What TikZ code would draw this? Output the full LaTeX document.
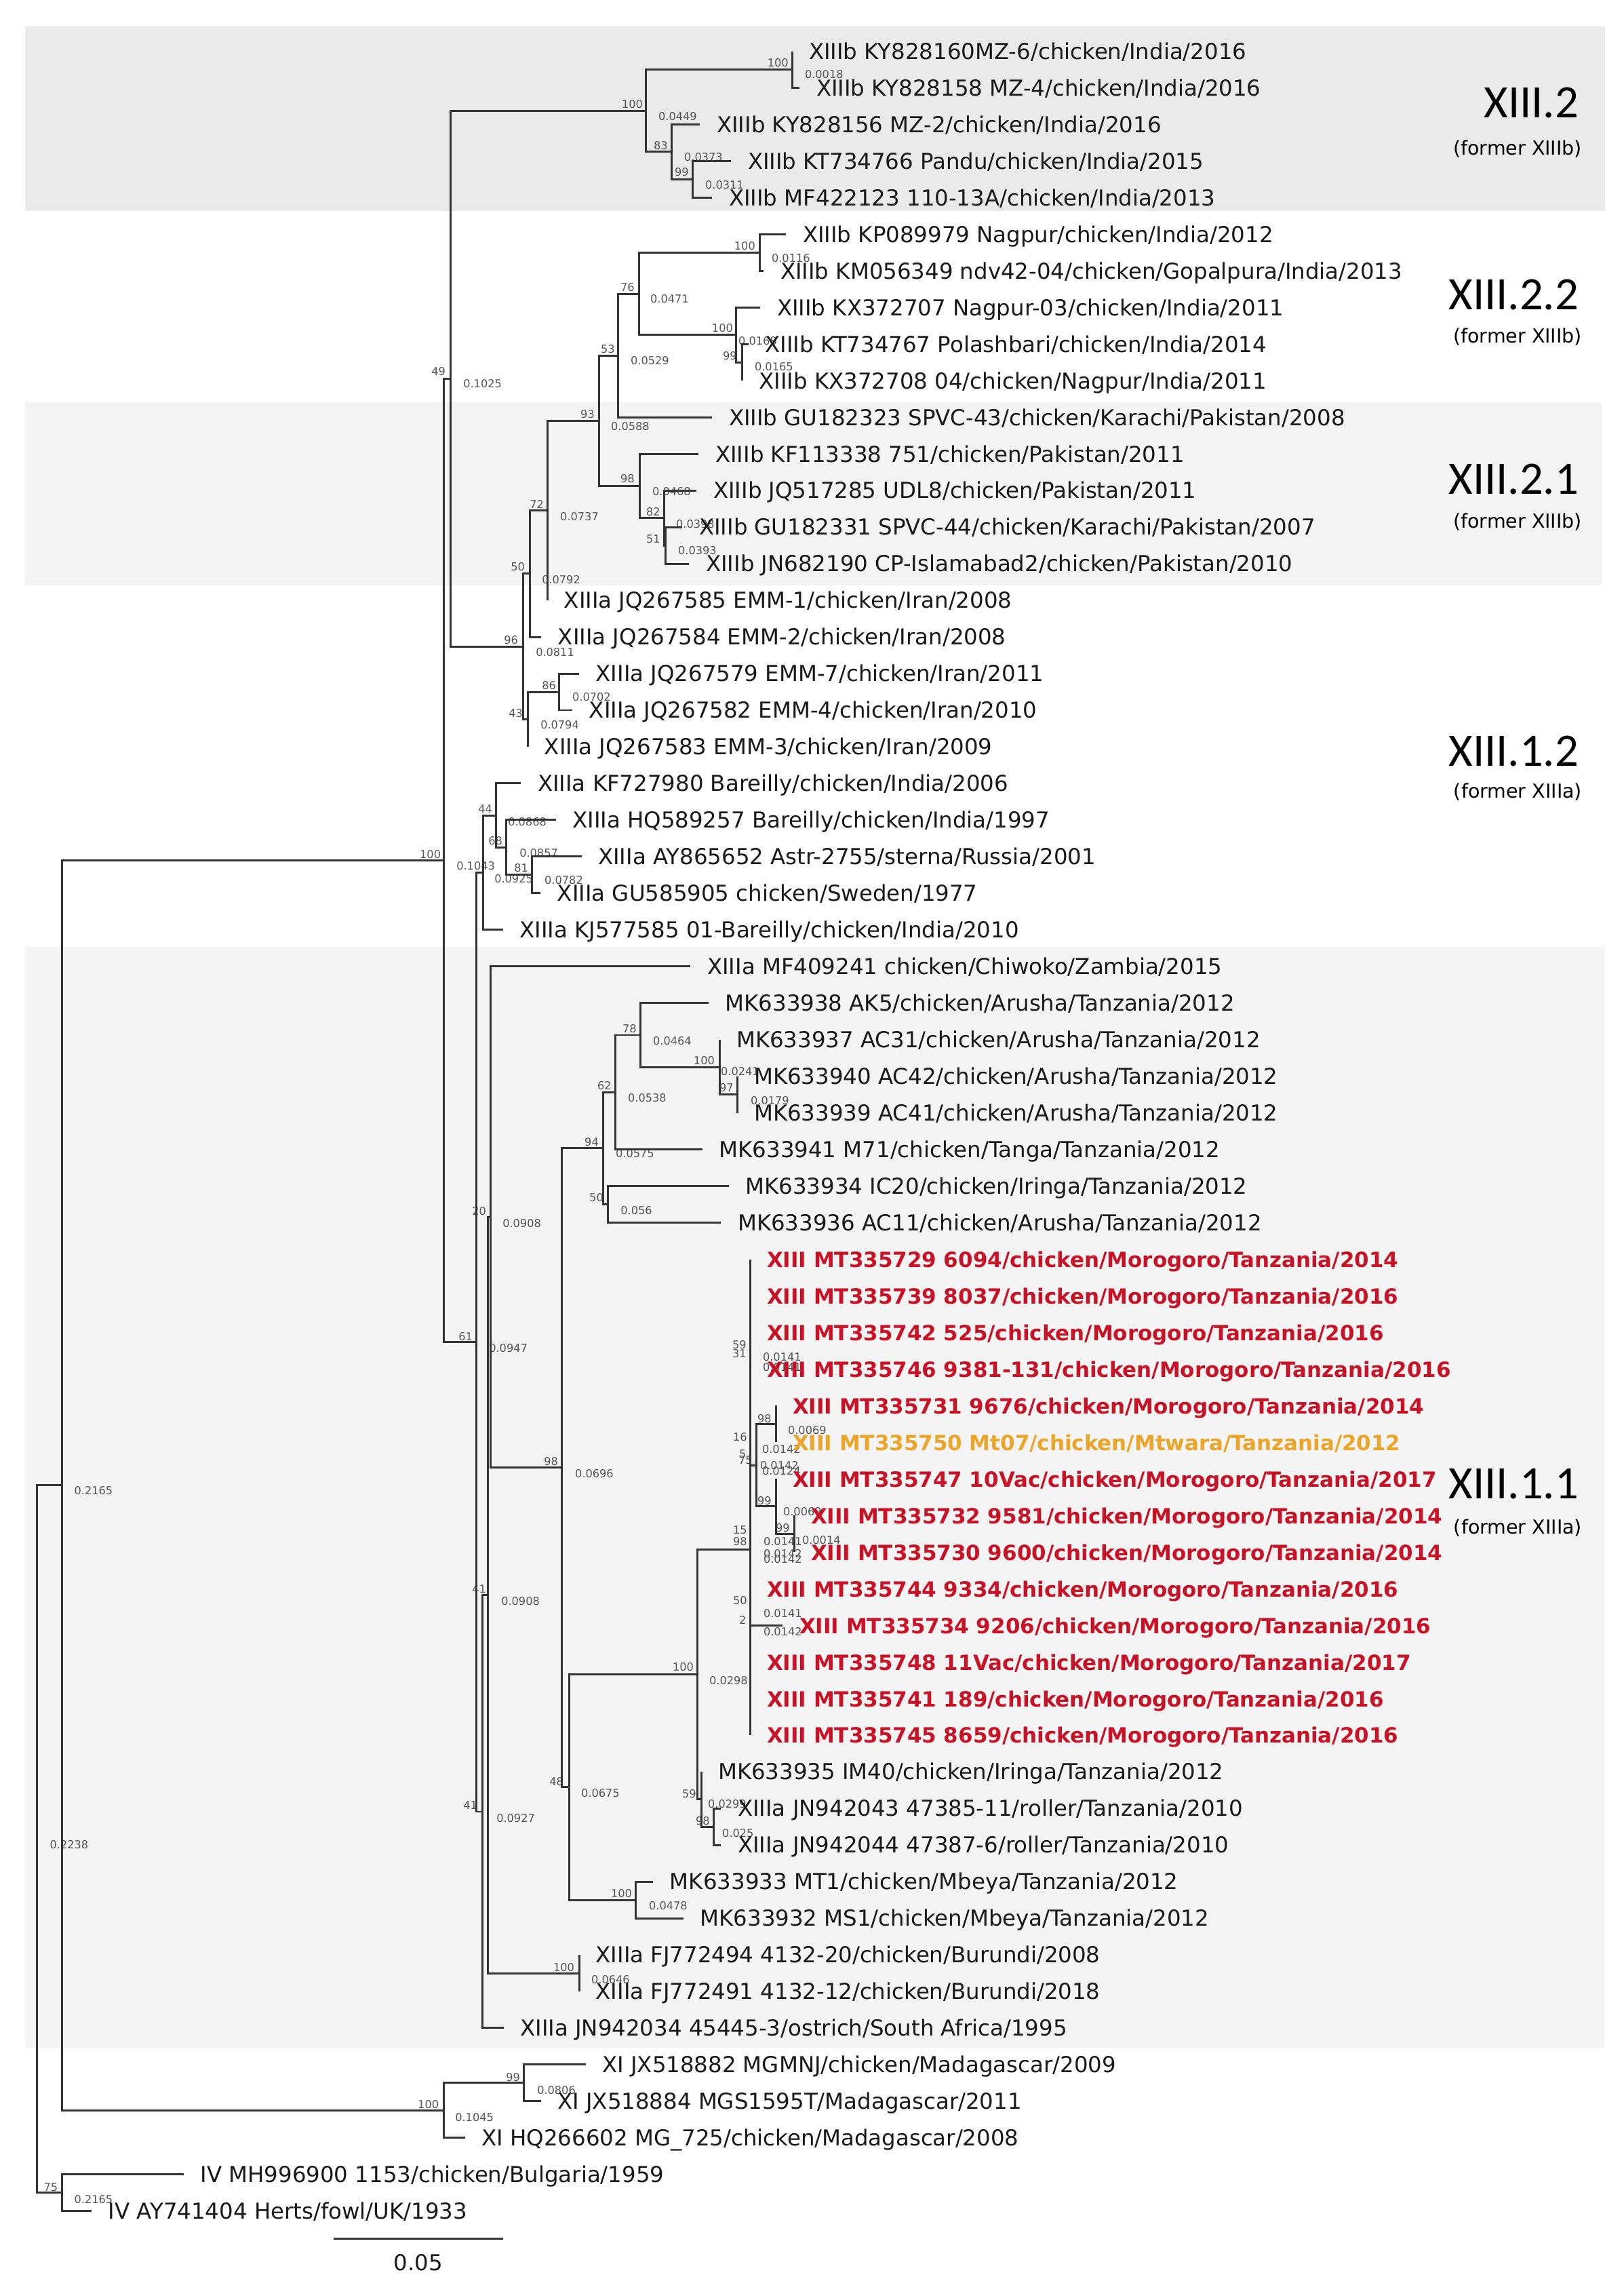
\documentclass[tikz,border=0pt]{standalone}
\usepackage{fontspec}
\setmainfont{DejaVu Sans}
\newfontfamily\cladefont{Carlito}
\usetikzlibrary{positioning}

\definecolor{bandA}{HTML}{EAEAEA}
\definecolor{bandB}{HTML}{F4F4F4}
\definecolor{treered}{RGB}{200,18,38}
\definecolor{treeorange}{RGB}{236,165,40}
\definecolor{branchgray}{HTML}{333333}
\definecolor{suppgray}{HTML}{555555}

\newcommand\taxon[4][leaf]{%
  \coordinate (l#2) at (#3,#2);
  \node[#1, right=0.24cm of l#2, anchor=base west, yshift=-0.118cm] (t#2) {#4};}

\begin{document}
\begin{tikzpicture}
            [x=0.01cm, y=-0.5397cm,
             branch/.style={draw=branchgray, line width=0.85pt},
             leaf/.style={inner sep=0, text=black!90, font=\fontsize{9.22}{11}\selectfont},
             ours/.style={leaf, text=treered, font=\bfseries\fontsize{8.8}{10}\selectfont},
             mtwara/.style={ours, text=treeorange},
             supp/.style={inner sep=0, text=suppgray, font=\fontsize{4.6}{5}\selectfont},
             clade/.style={anchor=east, inner sep=0, font=\cladefont\fontsize{19.5}{20}\selectfont},
             former/.style={anchor=east, inner sep=0, font=\fontsize{8.1}{9}\selectfont}]

            \useasboundingbox (0,-0.399) rectangle (2396,62.32);

            \fill[bandA] (36.7,0.322) rectangle (2368,5.364);
            \fill[bandB] (36.7,10.583) rectangle (2363,15.6);
            \fill[bandB] (36.7,25.46) rectangle (2367,55.54);

            % bootstrap values and branch lengths
            \foreach \x/\y/\t [count=\k] in {1148/93/100, 1216/110/0.0018, 933/154/100, 1000/172/0.0449,
                975/215/83, 1038/232/0.0373, 1006/254/99, 1069/273/0.0311, 647/548/49, 712/566/0.1025,
                1099/363/100, 1167/381/0.0116, 926/424/76, 988/441/0.0471, 1066/484/100, 1118/503/0.0168,
                1077/525/99, 1142/541/0.0165, 897/515/53, 959/532/0.0529, 867/611/93, 930/629/0.0588,
                926/706/98, 991/725/0.0468, 964/755/82, 1026/773/0.0398, 964/795/51, 1029/812/0.0393,
                792/743/72, 855/762/0.0737, 764/836/50, 828/855/0.0792, 754/944/96, 819/962/0.0811,
                810/1011/86, 873/1028/0.0702, 761/1052/43, 826/1069/0.0794, 635/1260/100, 702/1277/0.1043,
                716/1193/44, 731/1240/68, 778/1212/0.0868, 795/1258/0.0857, 769/1280/81, 758/1296/0.0925,
                832/1298/0.0782, 929/1517/78, 992/1535/0.0464, 1039/1564/100, 1092/1580/0.0241,
                892/1601/62, 1072/1604/97, 955/1619/0.0538, 1136/1623/0.0179, 873/1684/94, 937/1701/0.0575,
                880/1766/50, 939/1785/0.056, 707/1786/20, 770/1804/0.0908, 687/1971/61, 750/1988/0.0947,
                1091/1983/59, 1091/1996/31, 1154/2001/0.0141, 1154/2016/0.0141, 1128/2092/98, 1092/2119/16,
                1096/2144/5, 1100/2153/75, 1191/2109/0.0069, 1153/2137/0.0142, 1150/2161/0.0142,
                1153/2169/0.0124, 1128/2213/99, 1155/2253/99, 1092/2256/15, 1092/2273/98, 1155/2273/0.0141,
                1155/2291/0.0142, 1155/2299/0.0142, 1184/2229/0.0069, 1212/2271/0.0014, 1092/2360/50,
                1096/2388/2, 1155/2379/0.0141, 1155/2406/0.0142, 1008/2458/100, 1075/2478/0.0298,
                821/2627/48, 886/2644/0.0675, 694/2662/41, 761/2681/0.0927, 1017/2645/59, 1073/2660/0.0299,
                1037/2685/98, 1089/2703/0.025, 917/2792/100, 986/2810/0.0478, 832/2901/100, 901/2919/0.0646,
                707/2343/41, 768/2361/0.0908, 138/2198/0.2165, 813/2155/98, 877/2173/0.0696, 632/3103/100,
                700/3122/0.1045, 757/3063/99, 821/3082/0.0806, 75/3225/75, 138/3243/0.2165, 102/2720/0.2238} {
                \node[supp] (s\k) at (\x,{(\y-21.53)/53.97}) {\t};
            }

            % inner nodes of the tree
            \foreach \n/\x/\r in {c2top/1169/1.5, c2d/1022/4.5, c2c/990.6/3.75, c2/953/2.625,
                c22a/1121.4/6.5, c22c/1095.5/9.5, c22b/1085.7/8.75, c22/943/7.625, c22r/912.5/9.3125,
                c21c/982/14.5, c21b/980.4/13.75, c21/943.75/12.875, c2x/883.5/11.094,
                n72/807.6/13.547, n50/782/15.273, n86/825.4/18.5, n43/778.6/19.25, n96/771.9/17.262,
                n49/664.7/9.943, n81/785/23.5, n68/747/22.75, n44/732/21.875, nind/713/23.4375,
                n97/1088/29.5, n100b/1062/28.75, n78/945/27.875, n62/908/29.4375, n50b/897/32.5,
                n94/890/30.969, n99c/1172/41.5, n99b/1145/40.75, n98b/1145/38.5, n5/1116/39.625,
                poly/1107/41.92, n98c/1053/49.5, n59/1035/48.75, n100c/1028.6/45.335, n100d/938/51.5,
                n48/840/48.42, n98/829/39.69, n20/724/32.85, n100e/854.5/53.5, n41a/720/43.17,
                n41b/711.6/49.09, n61/703/36.26, n100/655/23.1, n99e/773.3/56.5, n100h/654.4/57.25,
                nxi/91.8/40.175, n75/91.8/59.5, root/54.5/49.84} {
                \coordinate (\n) at (\x,\r);
            }

            \taxon{1}{1169}{XIIIb KY828160MZ-6/chicken/India/2016}
            \taxon{2}{1180}{XIIIb KY828158 MZ-4/chicken/India/2016}
            \taxon{3}{1033}{XIIIb KY828156 MZ-2/chicken/India/2016}
            \taxon{4}{1079}{XIIIb KT734766 Pandu/chicken/India/2015}
            \taxon{5}{1051}{XIIIb MF422123 110-13A/chicken/India/2013}
            \taxon{6}{1160}{XIIIb KP089979 Nagpur/chicken/India/2012}
            \taxon{7}{1127}{XIIIb KM056349 ndv42-04/chicken/Gopalpura/India/2013}
            \taxon{8}{1122}{XIIIb KX372707 Nagpur-03/chicken/India/2011}
            \taxon{9}{1104.5}{XIIIb KT734767 Polashbari/chicken/India/2014}
            \taxon{10}{1095.5}{XIIIb KX372708 04/chicken/Nagpur/India/2011}
            \taxon{11}{1051}{XIIIb GU182323 SPVC-43/chicken/Karachi/Pakistan/2008}
            \taxon{12}{1031}{XIIIb KF113338 751/chicken/Pakistan/2011}
            \taxon{13}{1028}{XIIIb JQ517285 UDL8/chicken/Pakistan/2011}
            \taxon{14}{1007}{XIIIb GU182331 SPVC-44/chicken/Karachi/Pakistan/2007}
            \taxon{15}{1017}{XIIIb JN682190 CP-Islamabad2/chicken/Pakistan/2010}
            \taxon{16}{807.6}{XIIIa JQ267585 EMM-1/chicken/Iran/2008}
            \taxon{17}{798.7}{XIIIa JQ267584 EMM-2/chicken/Iran/2008}
            \taxon{18}{854.5}{XIIIa JQ267579 EMM-7/chicken/Iran/2011}
            \taxon{19}{844.6}{XIIIa JQ267582 EMM-4/chicken/Iran/2010}
            \taxon{20}{778.6}{XIIIa JQ267583 EMM-3/chicken/Iran/2009}
            \taxon{21}{768.8}{XIIIa KF727980 Bareilly/chicken/India/2006}
            \taxon{22}{820}{XIIIa HQ589257 Bareilly/chicken/India/1997}
            \taxon{23}{858}{XIIIa AY865652 Astr-2755/sterna/Russia/2001}
            \taxon{24}{797.7}{XIIIa GU585905 chicken/Sweden/1977}
            \taxon{25}{742}{XIIIa KJ577585 01-Bareilly/chicken/India/2010}
            \taxon{26}{1019}{XIIIa MF409241 chicken/Chiwoko/Zambia/2015}
            \taxon{27}{1045.5}{MK633938 AK5/chicken/Arusha/Tanzania/2012}
            \taxon{28}{1062}{MK633937 AC31/chicken/Arusha/Tanzania/2012}
            \taxon{29}{1088}{MK633940 AC42/chicken/Arusha/Tanzania/2012}
            \taxon{30}{1088}{MK633939 AC41/chicken/Arusha/Tanzania/2012}
            \taxon{31}{1036.6}{MK633941 M71/chicken/Tanga/Tanzania/2012}
            \taxon{32}{1075.4}{MK633934 IC20/chicken/Iringa/Tanzania/2012}
            \taxon{33}{1064}{MK633936 AC11/chicken/Arusha/Tanzania/2012}
            \taxon[ours]{34}{1107}{XIII MT335729 6094/chicken/Morogoro/Tanzania/2014}
            \taxon[ours]{35}{1107}{XIII MT335739 8037/chicken/Morogoro/Tanzania/2016}
            \taxon[ours]{36}{1107}{XIII MT335742 525/chicken/Morogoro/Tanzania/2016}
            \taxon[ours]{37}{1107}{XIII MT335746 9381-131/chicken/Morogoro/Tanzania/2016}
            \taxon[ours]{38}{1145}{XIII MT335731 9676/chicken/Morogoro/Tanzania/2014}
            \taxon[mtwara]{39}{1145}{XIII MT335750 Mt07/chicken/Mtwara/Tanzania/2012}
            \taxon[ours]{40}{1145}{XIII MT335747 10Vac/chicken/Morogoro/Tanzania/2017}
            \taxon[ours]{41}{1172}{XIII MT335732 9581/chicken/Morogoro/Tanzania/2014}
            \taxon[ours]{42}{1172}{XIII MT335730 9600/chicken/Morogoro/Tanzania/2014}
            \taxon[ours]{43}{1107}{XIII MT335744 9334/chicken/Morogoro/Tanzania/2016}
            \taxon[ours]{44}{1155}{XIII MT335734 9206/chicken/Morogoro/Tanzania/2016}
            \taxon[ours]{45}{1107}{XIII MT335748 11Vac/chicken/Morogoro/Tanzania/2017}
            \taxon[ours]{46}{1107}{XIII MT335741 189/chicken/Morogoro/Tanzania/2016}
            \taxon[ours]{47}{1107}{XIII MT335745 8659/chicken/Morogoro/Tanzania/2016}
            \taxon{48}{1035}{MK633935 IM40/chicken/Iringa/Tanzania/2012}
            \taxon{49}{1064}{XIIIa JN942043 47385-11/roller/Tanzania/2010}
            \taxon{50}{1064}{XIIIa JN942044 47387-6/roller/Tanzania/2010}
            \taxon{51}{963.8}{MK633933 MT1/chicken/Mbeya/Tanzania/2012}
            \taxon{52}{1008.5}{MK633932 MS1/chicken/Mbeya/Tanzania/2012}
            \taxon{53}{854.5}{XIIIa FJ772494 4132-20/chicken/Burundi/2008}
            \taxon{54}{854.5}{XIIIa FJ772491 4132-12/chicken/Burundi/2018}
            \taxon{55}{743}{XIIIa JN942034 45445-3/ostrich/South Africa/1995}
            \taxon{56}{864}{XI JX518882 MGMNJ/chicken/Madagascar/2009}
            \taxon{57}{798}{XI JX518884 MGS1595T/Madagascar/2011}
            \taxon{58}{686}{XI HQ266602 MG\_725/chicken/Madagascar/2008}
            \taxon{59}{271}{IV MH996900 1153/chicken/Bulgaria/1959}
            \taxon{60}{135}{IV AY741404 Herts/fowl/UK/1933}

            \foreach \p/\c in {c2top/l1, c2top/l2, c2c/l3, c2d/l4, c2d/l5, c2c/c2d, c2/c2top, c2/c2c,
                c22a/l6, c22a/l7, c22c/l9, c22c/l10, c22b/l8, c22b/c22c, c22/c22a, c22/c22b,
                c22r/c22, c22r/l11, c21c/l14, c21c/l15, c21b/l13, c21b/c21c, c21/l12, c21/c21b,
                c2x/c22r, c2x/c21, n72/c2x, n72/l16, n50/n72, n50/l17, n86/l18, n86/l19,
                n43/n86, n43/l20, n96/n50, n96/n43, n49/c2, n49/n96,
                n81/l23, n81/l24, n68/l22, n68/n81, n44/l21, n44/n68, nind/n44, nind/l25,
                n97/l29, n97/l30, n100b/l28, n100b/n97, n78/l27, n78/n100b, n62/n78, n62/l31,
                n50b/l32, n50b/l33, n94/n62, n94/n50b,
                n98b/l38, n98b/l39, n99c/l41, n99c/l42, n99b/l40, n99b/n99c, n5/n98b, n5/n99b,
                poly/l34, poly/l35, poly/l36, poly/l37, poly/n5, poly/l43, poly/l44, poly/l45,
                poly/l46, poly/l47, n98c/l49, n98c/l50, n59/l48, n59/n98c, n100c/poly, n100c/n59,
                n100d/l51, n100d/l52, n48/n100c, n48/n100d, n98/n94, n98/n48,
                n20/l26, n20/n98, n100e/l53, n100e/l54, n41a/n20, n41a/n100e, n41b/n41a, n41b/l55,
                n61/nind, n61/n41b, n100/n49, n100/n61, n99e/l56, n99e/l57, n100h/n99e, n100h/l58,
                nxi/n100, nxi/n100h, n75/l59, n75/l60, root/nxi, root/n75} {
                \draw[branch] (\p) |- (\c);
            }

            \coordinate (sbl) at (492.5,60.75);
            \coordinate (sbr) at (742.3,60.75);
            \draw[branch, line width=0.95pt] (sbl) -- (sbr);
            \node[leaf] (scale) at (617,61.41) {0.05};

            \node[clade] (k2) at (2330,2.40) {XIII.2};
            \node[former] (f2) at (2335,3.67) {(former XIIIb)};
            \node[clade] (k22) at (2330,7.66) {XIII.2.2};
            \node[former] (f22) at (2335,8.81) {(former XIIIb)};
            \node[clade] (k21) at (2330,12.70) {XIII.2.1};
            \node[former] (f21) at (2335,13.86) {(former XIIIb)};
            \node[clade] (k12) at (2330,20.12) {XIII.1.2};
            \node[former] (f12) at (2335,21.23) {(former XIIIa)};
            \node[clade] (k11) at (2330,40.14) {XIII.1.1};
            \node[former] (f11) at (2335,41.33) {(former XIIIa)};
        \end{tikzpicture}
\end{document}
